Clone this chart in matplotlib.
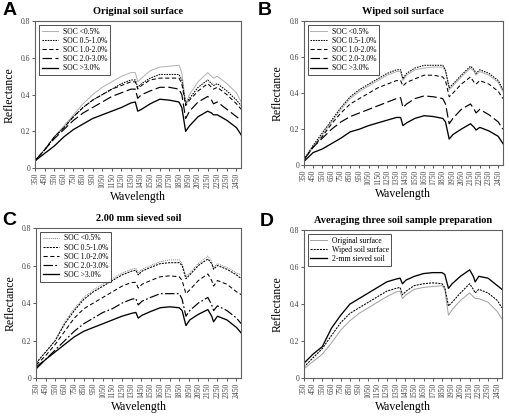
import numpy as np
import matplotlib
matplotlib.use("Agg")
import matplotlib.pyplot as plt

wl = [350, 450, 550, 650, 750, 850, 950, 1050, 1150, 1250, 1350, 1395, 1420, 1460,
      1550, 1650, 1750, 1850, 1880, 1920, 1960, 2050, 2150, 2190, 2210, 2250, 2350,
      2450, 2500]

soc_labels = ["SOC <0.5%", "SOC 0.5-1.0%", "SOC 1.0-2.0%", "SOC 2.0-3.0%", "SOC >3.0%"]
prep_labels = ["Original surface", "Wiped soil surface", "2-mm sieved soil"]

# A - original soil surface
a_lt05 = [0.04, 0.10, 0.17, 0.23, 0.29, 0.35, 0.40, 0.44, 0.47, 0.50, 0.52, 0.52, 0.47, 0.49,
          0.53, 0.55, 0.555, 0.56, 0.52, 0.35, 0.40, 0.47, 0.52, 0.50, 0.49, 0.50, 0.46, 0.41, 0.36]
a_05_10 = [0.04, 0.10, 0.17, 0.22, 0.28, 0.33, 0.37, 0.40, 0.43, 0.46, 0.48, 0.48, 0.44, 0.46,
           0.49, 0.51, 0.51, 0.51, 0.48, 0.35, 0.38, 0.44, 0.48, 0.46, 0.45, 0.46, 0.42, 0.37, 0.34]
a_10_20 = [0.04, 0.10, 0.17, 0.22, 0.28, 0.33, 0.37, 0.40, 0.43, 0.45, 0.47, 0.47, 0.43, 0.45,
           0.48, 0.49, 0.49, 0.49, 0.46, 0.34, 0.37, 0.42, 0.46, 0.44, 0.43, 0.44, 0.40, 0.35, 0.32]
a_20_30 = [0.04, 0.10, 0.16, 0.21, 0.26, 0.30, 0.33, 0.36, 0.39, 0.41, 0.43, 0.43, 0.38, 0.40,
           0.42, 0.44, 0.44, 0.43, 0.40, 0.27, 0.31, 0.36, 0.39, 0.37, 0.35, 0.36, 0.32, 0.28, 0.26]
a_gt30 = [0.04, 0.08, 0.12, 0.17, 0.21, 0.24, 0.27, 0.29, 0.31, 0.33, 0.355, 0.36, 0.31, 0.32,
          0.35, 0.375, 0.37, 0.36, 0.33, 0.20, 0.23, 0.28, 0.31, 0.30, 0.29, 0.29, 0.26, 0.22, 0.18]

# B - wiped soil surface
b_lt05 = [0.03, 0.10, 0.17, 0.24, 0.31, 0.37, 0.41, 0.44, 0.47, 0.50, 0.52, 0.52, 0.47, 0.50,
          0.53, 0.54, 0.545, 0.545, 0.52, 0.42, 0.44, 0.49, 0.54, 0.52, 0.50, 0.52, 0.50, 0.46, 0.41]
b_05_10 = [0.03, 0.11, 0.18, 0.25, 0.32, 0.38, 0.42, 0.45, 0.48, 0.51, 0.53, 0.53, 0.48, 0.51,
           0.54, 0.555, 0.555, 0.555, 0.53, 0.43, 0.45, 0.50, 0.55, 0.53, 0.51, 0.53, 0.51, 0.47, 0.42]
b_10_20 = [0.03, 0.10, 0.16, 0.23, 0.29, 0.34, 0.37, 0.40, 0.43, 0.45, 0.47, 0.47, 0.44, 0.46,
           0.48, 0.50, 0.50, 0.49, 0.47, 0.38, 0.40, 0.45, 0.49, 0.46, 0.45, 0.47, 0.45, 0.41, 0.37]
b_20_30 = [0.03, 0.10, 0.15, 0.20, 0.24, 0.27, 0.29, 0.31, 0.33, 0.35, 0.37, 0.375, 0.32, 0.34,
           0.37, 0.385, 0.38, 0.37, 0.34, 0.23, 0.26, 0.31, 0.34, 0.31, 0.29, 0.31, 0.28, 0.24, 0.20]
b_gt30 = [0.02, 0.07, 0.09, 0.12, 0.15, 0.185, 0.20, 0.22, 0.235, 0.25, 0.265, 0.265, 0.22, 0.235,
          0.26, 0.275, 0.27, 0.26, 0.24, 0.145, 0.17, 0.20, 0.23, 0.21, 0.195, 0.21, 0.19, 0.16, 0.12]

# C - 2.00 mm sieved soil
c_lt05 = [0.08, 0.14, 0.20, 0.30, 0.37, 0.43, 0.47, 0.50, 0.53, 0.56, 0.58, 0.585, 0.56, 0.58,
          0.60, 0.62, 0.63, 0.63, 0.61, 0.54, 0.56, 0.61, 0.65, 0.62, 0.59, 0.61, 0.59, 0.56, 0.55]
c_05_10 = [0.08, 0.14, 0.20, 0.29, 0.36, 0.42, 0.46, 0.49, 0.52, 0.55, 0.57, 0.575, 0.55, 0.57,
           0.59, 0.61, 0.615, 0.615, 0.60, 0.53, 0.55, 0.60, 0.635, 0.61, 0.58, 0.60, 0.58, 0.55, 0.53]
c_10_20 = [0.07, 0.12, 0.18, 0.25, 0.32, 0.37, 0.40, 0.43, 0.46, 0.49, 0.51, 0.51, 0.48, 0.50,
           0.52, 0.54, 0.545, 0.54, 0.52, 0.45, 0.47, 0.52, 0.555, 0.52, 0.49, 0.52, 0.50, 0.46, 0.445]
c_20_30 = [0.06, 0.10, 0.15, 0.20, 0.25, 0.29, 0.32, 0.35, 0.37, 0.40, 0.42, 0.425, 0.39, 0.41,
           0.43, 0.45, 0.45, 0.45, 0.42, 0.33, 0.36, 0.40, 0.43, 0.39, 0.36, 0.385, 0.36, 0.32, 0.29]
c_gt30 = [0.05, 0.10, 0.14, 0.18, 0.22, 0.25, 0.27, 0.29, 0.31, 0.33, 0.345, 0.35, 0.32, 0.335,
          0.355, 0.375, 0.38, 0.375, 0.36, 0.28, 0.31, 0.34, 0.365, 0.33, 0.30, 0.33, 0.31, 0.27, 0.24]

# D - average of the three preparations
d_orig = [0.05, 0.09, 0.13, 0.19, 0.26, 0.31, 0.35, 0.38, 0.41, 0.44, 0.465, 0.47, 0.43, 0.45,
          0.48, 0.49, 0.495, 0.50, 0.48, 0.34, 0.37, 0.42, 0.46, 0.44, 0.43, 0.43, 0.41, 0.36, 0.32]
d_wiped = [0.06, 0.11, 0.16, 0.23, 0.30, 0.35, 0.38, 0.41, 0.44, 0.47, 0.485, 0.49, 0.45, 0.47,
           0.50, 0.51, 0.515, 0.51, 0.49, 0.39, 0.41, 0.46, 0.51, 0.48, 0.46, 0.48, 0.46, 0.42, 0.38]
d_sieved = [0.08, 0.13, 0.17, 0.27, 0.34, 0.40, 0.43, 0.46, 0.49, 0.52, 0.535, 0.54, 0.51, 0.53,
            0.55, 0.565, 0.57, 0.57, 0.56, 0.485, 0.51, 0.55, 0.585, 0.55, 0.52, 0.55, 0.54, 0.50, 0.48]

xticks = list(range(350, 2451, 100))
yticks = [0, 0.2, 0.4, 0.6, 0.8]
ytick_labels = ["0", "0.2", "0.4", "0.6", "0.8"]

serif = "Liberation Serif"
plt.rcParams["font.family"] = serif

soc_styles = [
    dict(color="#b0b0b0", lw=0.7, ls="-"),
    dict(color="black", lw=0.75, ls=(0, (1.5, 1))),
    dict(color="black", lw=0.75, ls=(0, (4, 2.5))),
    dict(color="black", lw=0.85, ls=(0, (8, 3))),
    dict(color="black", lw=0.95, ls="-"),
]
soc_styles_c = [
    dict(color="#808080", lw=0.7, ls=(0, (1, 1))),
    dict(color="black", lw=0.75, ls=(0, (2, 1))),
    dict(color="black", lw=0.75, ls=(0, (4, 2.5))),
    dict(color="black", lw=0.85, ls=(0, (8, 2, 1.5, 2))),
    dict(color="black", lw=0.95, ls="-"),
]
prep_styles = [
    dict(color="#a0a0a0", lw=0.7, ls="-"),
    dict(color="black", lw=0.75, ls=(0, (2, 1))),
    dict(color="black", lw=0.95, ls="-"),
]


def setup(ax, title, letter, lx, ly):
    ax.set_xlim(350, 2500)
    ax.set_ylim(0, 0.8)
    ax.set_xticks(xticks)
    ax.set_xticklabels([str(t) for t in xticks], rotation=90, fontsize=5.5)
    ax.set_yticks(yticks)
    ax.set_yticklabels(ytick_labels, fontsize=5.5)
    ax.tick_params(length=2, width=0.6, pad=1.5, colors="#404040")
    for s in ax.spines.values():
        s.set_color("#606060")
        s.set_linewidth(0.8)
    ax.set_xlabel("Wavelength", fontsize=8.5, labelpad=2)
    ax.set_ylabel("Reflectance", fontsize=8.5, labelpad=4)
    ax.set_title(title, fontsize=7.5, fontweight="bold", pad=5)
    fig.text(lx, ly, letter, fontsize=14, fontweight="bold",
             family="Liberation Sans", va="top", ha="left")


def legend(ax, loc="upper left"):
    lg = ax.legend(loc=loc, fontsize=5.5, frameon=True, fancybox=False,
                   handlelength=2.2, handletextpad=0.6, labelspacing=0.15,
                   borderpad=0.35, borderaxespad=0.5)
    lg.get_frame().set_edgecolor("black")
    lg.get_frame().set_linewidth(0.6)


fig = plt.figure(figsize=(5.09, 4.16), dpi=100)
axA = fig.add_axes([0.069, 0.596, 0.405, 0.353])
axB = fig.add_axes([0.597, 0.603, 0.391, 0.346])
axC = fig.add_axes([0.071, 0.091, 0.403, 0.361])
axD = fig.add_axes([0.597, 0.091, 0.389, 0.356])

for ys, lab, st in zip([a_lt05, a_05_10, a_10_20, a_20_30, a_gt30], soc_labels, soc_styles):
    axA.plot(wl, ys, label=lab, **st)
setup(axA, "Original soil surface", "A", 0.004, 0.995)
legend(axA)

for ys, lab, st in zip([b_lt05, b_05_10, b_10_20, b_20_30, b_gt30], soc_labels, soc_styles):
    axB.plot(wl, ys, label=lab, **st)
setup(axB, "Wiped soil surface", "B", 0.506, 0.995)
legend(axB)

for ys, lab, st in zip([c_lt05, c_05_10, c_10_20, c_20_30, c_gt30], soc_labels, soc_styles_c):
    axC.plot(wl, ys, label=lab, **st)
setup(axC, "2.00 mm sieved soil", "C", 0.004, 0.49)
legend(axC)

for ys, lab, st in zip([d_orig, d_wiped, d_sieved], prep_labels, prep_styles):
    axD.plot(wl, ys, label=lab, **st)
setup(axD, "Averaging three soil sample preparation", "D", 0.51, 0.487)
legend(axD)

fig.savefig("out.png", dpi=100)
